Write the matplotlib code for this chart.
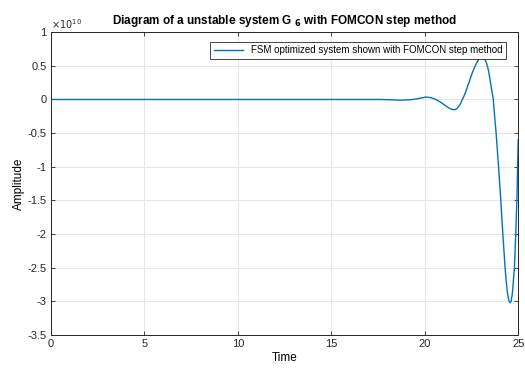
import numpy as np
import matplotlib.pyplot as plt
from matplotlib.ticker import FuncFormatter

plt.rcParams['font.family'] = ['Liberation Sans', 'DejaVu Sans']

# step response (amplitude in units of 1e10)
time = [0, 5, 10, 15, 17, 17.6, 18.2, 18.7, 19.2, 19.6, 19.85, 20.05, 20.2,
        20.35, 20.6, 20.9, 21.15, 21.35, 21.5, 21.6, 21.7, 21.8, 21.9, 22.0,
        22.1, 22.2, 22.3, 22.4, 22.55, 22.7, 22.85, 22.95, 23.05, 23.12, 23.2,
        23.28, 23.35, 23.42, 23.5, 23.58, 23.67, 23.75, 23.82, 23.95, 24.07,
        24.18, 24.3, 24.36, 24.42, 24.47, 24.52, 24.57, 24.62, 24.68, 24.72,
        24.76, 24.8, 24.87, 24.93, 24.97, 25.0]
amp = [0, 0, 0, 0, 0, 0, -0.005, -0.01, -0.005, 0.01, 0.025, 0.035, 0.033,
       0.025, 0.0, -0.05, -0.1, -0.135, -0.15, -0.152, -0.14, -0.11, -0.07,
       -0.01, 0.05, 0.12, 0.2, 0.28, 0.4, 0.5, 0.58, 0.615, 0.63, 0.625, 0.6,
       0.56, 0.5, 0.42, 0.28, 0.15, 0.0, -0.28, -0.5, -1.0, -1.5,
       -2.0, -2.5, -2.7, -2.85, -2.95, -3.0, -3.02, -3.0, -2.9, -2.78,
       -2.63, -2.5, -2.0, -1.5, -1.0, -0.6]

fig = plt.figure(figsize=(5.25, 3.74), dpi=100)
ax = fig.add_axes([0.097, 0.104, 0.89, 0.81])

ax.plot(time, amp, color='#0072BD', linewidth=1.0,
        label='FSM optimized system shown with FOMCON step method')

ax.set_xlim(0, 25)
ax.set_ylim(-3.5, 1)
ax.set_xticks(np.arange(0, 26, 5))
ax.set_yticks(np.arange(-3.5, 1.01, 0.5))
ax.yaxis.set_major_formatter(FuncFormatter(lambda v, p: '%g' % v))
ax.tick_params(direction='in', top=True, right=True, labelsize=8, length=3,
               width=0.6, colors='#262626', pad=3)
ax.grid(True, color='#e6e6e6', linewidth=0.7)
ax.set_axisbelow(True)
for s in ax.spines.values():
    s.set_color('#262626')
    s.set_linewidth(0.7)

ax.text(0.0, 1.005, r'$\times10^{10}$', transform=ax.transAxes, fontsize=7,
        ha='left', va='bottom', color='#262626')
ax.set_xlabel('Time', fontsize=8.5, labelpad=2)
ax.set_ylabel('Amplitude', fontsize=8.5, labelpad=2)
ax.set_title(r'Diagram of a unstable system G $_{\mathbf{6}}$ with FOMCON step method',
             fontsize=8.5, fontweight='bold', pad=6)

leg = ax.legend(loc='upper right', fontsize=7, fancybox=False, framealpha=1,
                borderpad=0.4, handlelength=3, bbox_to_anchor=(0.985, 0.985))
leg.get_frame().set_edgecolor('#262626')
leg.get_frame().set_linewidth(0.6)

fig.savefig('out.png', dpi=100)
